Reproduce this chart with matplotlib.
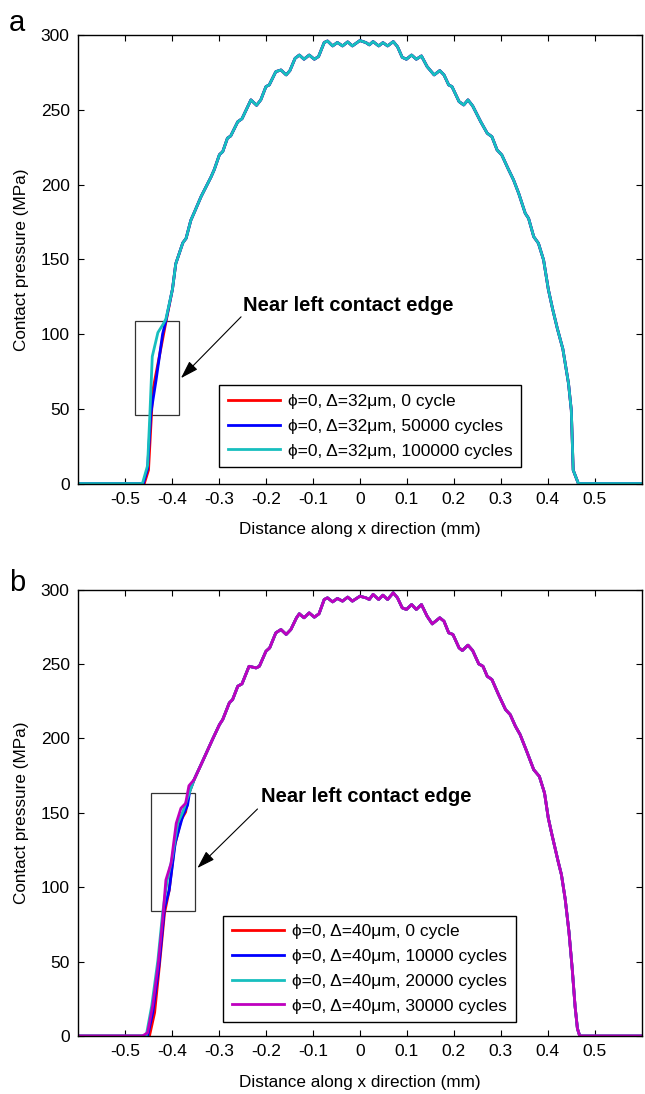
import numpy as np
import matplotlib
matplotlib.use('Agg')
import matplotlib.pyplot as plt
import matplotlib.patches as patches

plt.rcParams['font.family'] = ['Liberation Sans', 'DejaVu Sans']

# ---- panel a: shared body of the three curves (x in mm, pressure in MPa)
body_a_x = [-0.399, -0.392, -0.377, -0.370, -0.360, -0.353, -0.338, -0.317, -0.310, -0.299,
            -0.292, -0.282, -0.275, -0.260, -0.251, -0.232, -0.220, -0.211, -0.200, -0.193,
            -0.179, -0.168, -0.157, -0.149, -0.138, -0.129, -0.119, -0.108, -0.097, -0.088,
            -0.076, -0.069, -0.058, -0.048, -0.037, -0.026, -0.016, 0.000, 0.013, 0.020,
            0.028, 0.040, 0.049, 0.059, 0.071, 0.080, 0.090, 0.099, 0.110, 0.120,
            0.131, 0.143, 0.158, 0.170, 0.179, 0.189, 0.196, 0.211, 0.221, 0.230,
            0.240, 0.257, 0.271, 0.281, 0.292, 0.302, 0.315, 0.327, 0.338, 0.352,
            0.359, 0.370, 0.380, 0.391, 0.401, 0.410, 0.420, 0.432, 0.444, 0.450,
            0.454, 0.465, 0.600]
body_a_p = [130, 147, 161, 164, 176, 181, 192, 205, 210, 220,
            222, 231, 232.5, 242, 244, 256.6, 253, 256.6, 265.5, 266.6,
            275.5, 276.6, 273.3, 276.2, 284.4, 286.6, 283.8, 286.6, 283.8, 285.6,
            295, 296, 292.7, 295, 292.7, 295.4, 292.7, 296.3, 294.9, 293.4,
            295.6, 292.7, 294.9, 292.7, 295.6, 292.2, 285.1, 283.8, 286.6, 283.8,
            286, 278.9, 273.3, 276.2, 273.3, 266.6, 265.5, 255.5, 253.2, 256.6,
            252.6, 242.1, 234.3, 232, 223.1, 219.8, 210.9, 203.1, 194.1, 180.7,
            177.4, 165.1, 160.7, 149.5, 130, 117, 104, 90, 67, 49,
            9, 0, 0]

# panel a: left contact edge, one per series
edge_a_x = {
    '0 cycle': [-0.600, -0.459, -0.450, -0.441, -0.427, -0.413],
    '50000 cycles': [-0.600, -0.461, -0.452, -0.445, -0.434, -0.420, -0.413],
    '100000 cycles': [-0.600, -0.463, -0.452, -0.447, -0.442, -0.430, -0.420, -0.413],
}
edge_a_p = {
    '0 cycle': [0, 0, 9, 62, 85, 108],
    '50000 cycles': [0, 0, 10, 47, 69, 100, 109],
    '100000 cycles': [0, 0, 12, 47, 85, 101, 106, 110],
}
colors_a = ['#ff0000', '#0000ff', '#17bfbf']

# ---- panel b: shared body of the four curves
body_b_x = [-0.353, -0.335, -0.314, -0.299, -0.292, -0.278, -0.271, -0.260, -0.251, -0.236,
            -0.221, -0.214, -0.200, -0.192, -0.179, -0.168, -0.157, -0.147, -0.135, -0.129,
            -0.119, -0.108, -0.097, -0.087, -0.076, -0.069, -0.058, -0.048, -0.037, -0.026,
            -0.016, 0.000, 0.013, 0.020, 0.028, 0.040, 0.049, 0.059, 0.071, 0.080,
            0.090, 0.099, 0.110, 0.120, 0.131, 0.143, 0.154, 0.170, 0.179, 0.189,
            0.198, 0.211, 0.218, 0.230, 0.240, 0.253, 0.262, 0.271, 0.281, 0.295,
            0.310, 0.320, 0.331, 0.341, 0.355, 0.370, 0.382, 0.393, 0.401, 0.408,
            0.422, 0.429, 0.437, 0.445, 0.452, 0.458, 0.463, 0.468, 0.600]
body_b_p = [172.3, 184.6, 199.2, 209.3, 212.7, 223.9, 226.1, 235.1, 236.7, 248.5,
            247.4, 248.5, 258.6, 260.9, 271, 273.2, 269.9, 273.2, 281.1, 283.8,
            281.1, 284.4, 281.5, 283.8, 293.4, 294.5, 291.8, 294.1, 292.3, 295,
            292.3, 295.6, 294.5, 293.4, 296.8, 293.4, 296.3, 293.4, 297.9, 294.5,
            287.8, 286.7, 290, 286.7, 290, 282.2, 277, 281.1, 278.8, 271,
            269.9, 260.9, 259.1, 262.7, 259.1, 250.1, 248.5, 241.8, 239.6, 229.5,
            219.4, 216, 208.2, 202.6, 191.4, 179, 174.5, 163.3, 146.5, 136.4,
            117.3, 108.4, 92, 70, 45, 20, 5, 0, 0]

edge_b_x = {
    '0 cycle': [-0.600, -0.448, -0.437, -0.427, -0.416, -0.406, -0.395, -0.381, -0.371, -0.364],
    '10000 cycles': [-0.600, -0.452, -0.441, -0.428, -0.416, -0.406, -0.393, -0.377, -0.367, -0.362],
    '20000 cycles': [-0.600, -0.455, -0.443, -0.430, -0.420, -0.410, -0.399, -0.388, -0.377, -0.367],
    '30000 cycles': [-0.600, -0.463, -0.452, -0.441, -0.430, -0.420, -0.413, -0.402, -0.391,
                     -0.381, -0.371, -0.364],
}
edge_b_p = {
    '0 cycle': [0, 0, 15.7, 46.6, 82.5, 98, 127, 145, 150.6, 163],
    '10000 cycles': [0, 0, 15.7, 46.6, 86, 98, 130, 148, 155, 165],
    '20000 cycles': [0, 0, 20.6, 51, 82.5, 105, 120.6, 143, 150.6, 160],
    '30000 cycles': [0, 0, 2.2, 20.6, 46.6, 78, 104.9, 116.1, 143, 153.1, 156.4, 168.2],
}
colors_b = ['#ff0000', '#0000ff', '#17bfbf', '#bf00bf']

x_ticks = [-0.5, -0.4, -0.3, -0.2, -0.1, 0, 0.1, 0.2, 0.3, 0.4, 0.5]
x_ticklabels = ['-0.5', '-0.4', '-0.3', '-0.2', '-0.1', '0', '0.1', '0.2', '0.3', '0.4', '0.5']
y_ticks = [0, 50, 100, 150, 200, 250, 300]


def style_axes(ax):
    """MATLAB-like boxed axes with inward ticks."""
    ax.set_xlim(-0.6, 0.6)
    ax.set_ylim(0, 300)
    ax.set_xticks(x_ticks)
    ax.set_xticklabels(x_ticklabels)
    ax.set_yticks(y_ticks)
    ax.tick_params(direction='in', top=True, right=True, length=4, width=0.8,
                   labelsize=12.5, pad=6)
    for sp in ax.spines.values():
        sp.set_linewidth(1.0)
    ax.set_xlabel('Distance along x direction (mm)', fontsize=12.3, labelpad=11)
    ax.set_ylabel('Contact pressure (MPa)', fontsize=12.3, labelpad=8)


def draw_panel(ax, body_x, body_p, edge_x, edge_p, colors, delta, legend_anchor,
               rect, arrow_tail, arrow_head, text_pos):
    for (cyc, ex), color in zip(edge_x.items(), colors):
        xs = np.concatenate([ex, body_x])
        ps = np.concatenate([edge_p[cyc], body_p])
        label = '\u03d5=0, \u0394=%d\u03bcm, %s' % (delta, cyc)
        ax.plot(xs, ps, color=color, lw=2.0, label=label)
    style_axes(ax)

    leg = ax.legend(loc='upper left', bbox_to_anchor=legend_anchor, fontsize=12.5,
                    frameon=True, fancybox=False, edgecolor='black', framealpha=1,
                    borderaxespad=0, handlelength=3.0, handletextpad=0.45,
                    borderpad=0.5, labelspacing=0.55)
    leg.get_frame().set_linewidth(1.0)

    # box around the left contact edge + arrow + note
    (x0, y0), (x1, y1) = rect
    ax.add_patch(patches.Rectangle((x0, y0), x1 - x0, y1 - y0, fill=False,
                                   edgecolor='#333333', lw=0.9))
    ax.annotate('', xy=arrow_head, xytext=arrow_tail,
                arrowprops=dict(arrowstyle='-|>,head_length=1.1,head_width=0.35',
                                lw=0.8, color='black', shrinkA=0, shrinkB=0))
    ax.text(text_pos[0], text_pos[1], 'Near left contact edge', fontsize=14.5,
            fontweight='bold', va='center', ha='left')


fig = plt.figure(figsize=(6.45, 10.94), dpi=100)
ax_a = fig.add_axes([0.121, 0.558, 0.874, 0.410])
ax_b = fig.add_axes([0.121, 0.053, 0.874, 0.408])

draw_panel(ax_a, body_a_x, body_a_p, edge_a_x, edge_a_p, colors_a, 32,
           (0.2505, 0.219), ((-0.478, 45.7), (-0.386, 108.6)),
           (-0.253, 111.5), (-0.381, 70.5), (-0.248, 119.3))
draw_panel(ax_b, body_b_x, body_b_p, edge_b_x, edge_b_p, colors_b, 40,
           (0.2576, 0.2697), ((-0.445, 84.1), (-0.351, 163.3)),
           (-0.218, 152.6), (-0.346, 112.9), (-0.211, 161))

fig.text(0.014, 0.992, 'a', fontsize=21, va='top', ha='left')
fig.text(0.014, 0.480, 'b', fontsize=21, va='top', ha='left')

fig.savefig('out.png', dpi=100)
